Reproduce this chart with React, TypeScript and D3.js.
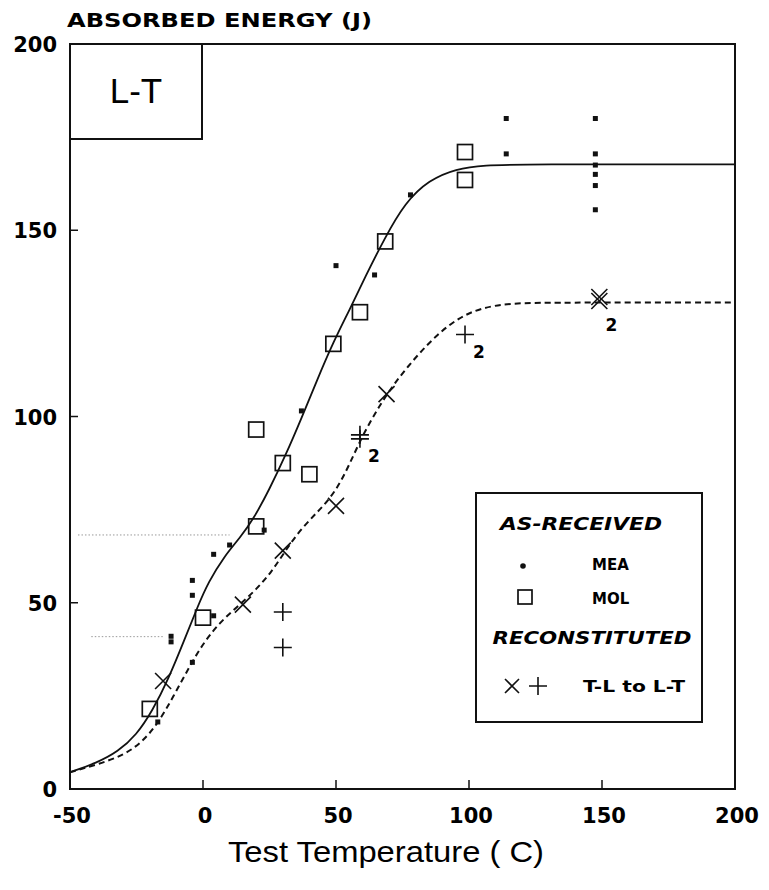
import * as d3 from 'd3'

// test temperature (C) / absorbed energy (J)
const meaPoints: [number, number][] = [
  [-17, 18], [-12, 41], [-12, 39.5], [-4, 56], [-4, 52], [-4, 34], [4, 46.5], [4, 63],
  [10, 65.5], [23, 69.5], [37, 101.5], [50, 140.5], [64.5, 138], [78, 159.5],
  [114, 180], [114, 170.5],
  [147.5, 180], [147.5, 170.5], [147.5, 167.5], [147.5, 165], [147.5, 162], [147.5, 155.5],
]
const molPoints: [number, number][] = [
  [-20, 21.5], [0, 46], [20, 96.5], [20, 70.5], [30, 87.5], [40, 84.5],
  [49, 119.5], [59, 128], [68.5, 147], [98.5, 171], [98.5, 163.5],
]
// reconstituted T-L to L-T: [temp, energy, drawn double, count label]
const crossPoints: [number, number, boolean, string][] = [
  [-15, 29, false, ''], [15, 49.5, false, ''], [30, 64, false, ''], [50, 76, false, ''],
  [69, 106, false, ''], [149, 131, true, '2'],
]
const plusPoints: [number, number, boolean, string][] = [
  [30, 47.5, false, ''], [30, 38, false, ''], [59, 94, true, '2'], [98.5, 122, false, '2'],
]
// hand-drawn fit curves
const asReceivedCurve: [number, number][] = [
  [-50, 4.5], [-40, 7], [-32, 10], [-25, 14.5], [-19, 21], [-13, 29.5], [-7, 40],
  [-2, 49], [2, 55.5], [8, 62.5], [14, 67.5], [19, 72.5], [25, 80.5], [31, 89.5],
  [37, 99.5], [43, 110], [49, 120], [55, 128.5], [61, 137.5], [68, 147.5], [76, 157.5],
  [85, 163.5], [95, 166.5], [106, 167.5], [120, 167.7], [200, 167.7],
]
const reconCurve: [number, number][] = [
  [-50, 4.5], [-40, 6.5], [-30, 9], [-23, 12.5], [-17, 17.5], [-11, 25], [-5, 33],
  [0, 39], [6, 44.5], [13, 49], [20, 53.5], [26, 58.5], [31, 64], [37, 70], [44, 75],
  [50, 80], [55, 87], [60, 95], [66, 102.5], [72, 109], [80, 116], [88, 122], [96, 126.5],
  [105, 129.3], [116, 130.4], [130, 130.6], [200, 130.6],
]
// faint dotted guide lines on the scan: [energy, from temp, to temp]
const guideLines: [number, number, number][] = [
  [68.2, -47, 10], [40.9, -42, -15],
]
const xTicks = [-50, 0, 50, 100, 150, 200]
const yTicks = [0, 50, 100, 150, 200]

const W = 769
const H = 890
const bold = 'DejaVu Sans, Verdana, sans-serif'

export default function App() {
  const x = d3.scaleLinear().domain([-50, 200]).range([70, 735])
  const y = d3.scaleLinear().domain([0, 200]).range([789, 44])
  const line = d3.line<[number, number]>()
    .x(d => x(d[0]))
    .y(d => y(d[1]))
    .curve(d3.curveBasis)

  const cross = (cx: number, cy: number, r: number) =>
    `M${cx - r},${cy - r}L${cx + r},${cy + r}M${cx - r},${cy + r}L${cx + r},${cy - r}`
  const plus = (cx: number, cy: number, r: number) =>
    `M${cx - r},${cy}L${cx + r},${cy}M${cx},${cy - r}L${cx},${cy + r}`

  return (
    <svg width={W} height={H} style={{ position: 'absolute', left: 0, top: 0, background: '#fff' }}>
      <text x={67} y={27} fontFamily={bold} fontWeight="bold" fontSize={19}
        textLength={305} lengthAdjust="spacingAndGlyphs">ABSORBED ENERGY (J)</text>

      {/* frame */}
      <rect x={x(-50)} y={y(200)} width={x(200) - x(-50)} height={y(0) - y(200)}
        fill="none" stroke="#111" strokeWidth={2} />
      <rect x={x(-50)} y={y(200)} width={132} height={95} fill="#fff" stroke="#111" strokeWidth={2} />
      <text x={x(-50) + 66} y={y(200) + 59} textAnchor="middle" fontFamily="Liberation Sans, Arial, sans-serif"
        fontSize={35}>L-T</text>

      {/* ticks */}
      {xTicks.filter(t => t > -50 && t < 200).map(t => (
        <line key={'xt' + t} x1={x(t)} x2={x(t)} y1={y(0)} y2={y(0) - 9} stroke="#111" strokeWidth={1.5} />
      ))}
      {yTicks.filter(t => t > 0 && t < 200).map(t => (
        <line key={'yt' + t} x1={x(-50)} x2={x(-50) + 8} y1={y(t)} y2={y(t)} stroke="#111" strokeWidth={1.5} />
      ))}
      {xTicks.map(t => (
        <text key={'xl' + t} x={x(t) + 2} y={823} textAnchor="middle" fontFamily={bold}
          fontWeight="bold" fontSize={21}>{t}</text>
      ))}
      {yTicks.map(t => (
        <text key={'yl' + t} x={57} y={y(t) + 8} textAnchor="end" fontFamily={bold}
          fontWeight="bold" fontSize={21}>{t}</text>
      ))}
      <text x={386} y={862} textAnchor="middle" fontFamily="Liberation Sans Narrow, Liberation Sans, Arial, sans-serif"
        fontSize={29} textLength={316} lengthAdjust="spacingAndGlyphs">Test Temperature ( C)</text>

      {/* faint guides */}
      {guideLines.map((g, i) => (
        <line key={'g' + i} x1={x(g[1])} x2={x(g[2])} y1={y(g[0])} y2={y(g[0])}
          stroke="#999" strokeWidth={1} strokeDasharray="1.5,2" />
      ))}

      {/* curves */}
      <path d={line(asReceivedCurve) ?? ''} fill="none" stroke="#111" strokeWidth={1.8} />
      <path d={line(reconCurve) ?? ''} fill="none" stroke="#111" strokeWidth={2} strokeDasharray="6,4" />

      {/* markers */}
      {molPoints.map((d, i) => (
        <rect key={'m' + i} x={x(d[0]) - 7.5} y={y(d[1]) - 7.5} width={15} height={15}
          fill="none" stroke="#111" strokeWidth={1.7} />
      ))}
      {meaPoints.map((d, i) => (
        <rect key={'e' + i} x={x(d[0]) - 2.5} y={y(d[1]) - 2.5} width={5} height={5} fill="#111" />
      ))}
      {crossPoints.map((d, i) => (
        <g key={'c' + i}>
          <path d={cross(x(d[0]), y(d[1]), 8)} stroke="#111" strokeWidth={1.6} fill="none" />
          {d[2] && <path d={cross(x(d[0]), y(d[1]) - 4, 8)} stroke="#111" strokeWidth={1.6} fill="none" />}
          {d[3] && <text x={x(d[0]) + 12} y={y(d[1]) + 30} fontFamily={bold} fontWeight="bold"
            fontSize={17} textAnchor="middle">{d[3]}</text>}
        </g>
      ))}
      {plusPoints.map((d, i) => (
        <g key={'p' + i}>
          <path d={plus(x(d[0]), y(d[1]), 9)} stroke="#111" strokeWidth={1.6} fill="none" />
          {d[2] && <path d={plus(x(d[0]), y(d[1]) - 4, 9)} stroke="#111" strokeWidth={1.6} fill="none" />}
          {d[3] && <text x={x(d[0]) + 14} y={y(d[1]) + 23} fontFamily={bold} fontWeight="bold"
            fontSize={17} textAnchor="middle">{d[3]}</text>}
        </g>
      ))}

      {/* legend */}
      <rect x={476} y={493} width={226} height={229} fill="#fff" stroke="#111" strokeWidth={2} />
      <text x={581} y={530} textAnchor="middle" fontFamily={bold} fontWeight="bold" fontStyle="italic"
        fontSize={18} textLength={162} lengthAdjust="spacingAndGlyphs">AS-RECEIVED</text>
      <circle cx={523} cy={566} r={2.8} fill="#111" />
      <text x={592} y={570} fontFamily={bold} fontWeight="bold" fontSize={15}>MEA</text>
      <rect x={518} y={590} width={14} height={14} fill="none" stroke="#111" strokeWidth={1.7} />
      <text x={592} y={604} fontFamily={bold} fontWeight="bold" fontSize={15}>MOL</text>
      <text x={592} y={644} textAnchor="middle" fontFamily={bold} fontWeight="bold" fontStyle="italic"
        fontSize={18} textLength={199} lengthAdjust="spacingAndGlyphs">RECONSTITUTED</text>
      <path d={cross(512, 686, 7)} stroke="#111" strokeWidth={1.6} fill="none" />
      <path d={plus(538, 686, 9)} stroke="#111" strokeWidth={1.6} fill="none" />
      <text x={583} y={692} fontFamily={bold} fontWeight="bold" fontSize={15}
        textLength={102} lengthAdjust="spacingAndGlyphs">T-L to L-T</text>
    </svg>
  )
}
